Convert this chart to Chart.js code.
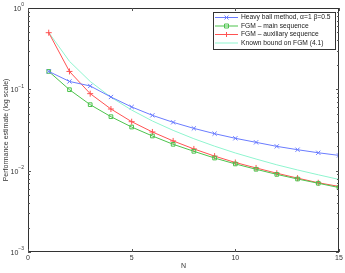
<!DOCTYPE html>
<html>
<head>
<meta charset="utf-8">
<script src="https://cdn.jsdelivr.net/npm/chart.js@4"></script>
<style>
  html, body { margin: 0; padding: 0; background: #fff; }
  #wrap { width: 345px; height: 273px; position: relative; }
</style>
</head>
<body>
<div id="wrap"><canvas id="chart-canvas"></canvas></div>
<script>
const chart = document.getElementById("chart-canvas");

// values
const iterations = [1, 2, 3, 4, 5, 6, 7, 8, 9, 10, 11, 12, 13, 14, 15];
const heavyBall = [0.166, 0.125, 0.110, 0.0805, 0.0607, 0.0479, 0.0393, 0.0331, 0.0285, 0.0250, 0.0223, 0.0199, 0.0181, 0.0166, 0.0154];
const fgmMain = [0.166, 0.099, 0.0648, 0.0461, 0.0344, 0.0267, 0.0211, 0.0173, 0.0143, 0.0121, 0.0104, 0.0090, 0.0079, 0.0070, 0.0062];
const fgmAux = [0.497, 0.166, 0.0885, 0.0573, 0.0400, 0.0299, 0.0232, 0.0185, 0.0151, 0.0126, 0.0108, 0.0093, 0.0081, 0.0071, 0.0064];
const knownBound = [0.5, 0.221, 0.125, 0.080, 0.0556, 0.0408, 0.0313, 0.0247, 0.0200, 0.0165, 0.0139, 0.0118, 0.0102, 0.0089, 0.0078];
const seriesNames = ["Heavy ball method, \u03b1=1 \u03b2=0.5", "FGM \u2013 main sequence", "FGM \u2013 auxiliary sequence", "Known bound on FGM (4.1)"];
const xTicks = [0, 5, 10, 15];
const yExponents = [0, -1, -2, -3];
// ======================

const colors = ["#6a7cff", "#4cc34c", "#ff5252", "#8ff5cf"];
const markers = ["crossRot", "rect", "cross", false];
const allSeries = [heavyBall, fgmMain, fgmAux, knownBound];

const font = "7px 'Liberation Sans', Arial, sans-serif";
const legendFont = "6.7px 'Liberation Sans', Arial, sans-serif";

function toPoints(values) {
  return values.map((v, i) => ({ x: iterations[i], y: v }));
}

const datasets = allSeries.map((values, i) => ({
  label: seriesNames[i],
  data: toPoints(values),
  borderColor: colors[i],
  backgroundColor: "rgba(0,0,0,0)",
  borderWidth: 1,
  pointStyle: markers[i],
  pointRadius: markers[i] ? (markers[i] === "rect" ? 2.6 : 3) : 0,
  pointBorderColor: colors[i],
  pointBorderWidth: 1,
  tension: 0,
  fill: false
}));

// axes, ticks and legend drawn matlab style
const matlabAxes = {
  id: "matlabAxes",
  afterDraw(c) {
    const ctx = c.ctx;
    const area = c.chartArea;
    const xs = c.scales.x;
    const ys = c.scales.y;
    ctx.save();
    ctx.strokeStyle = "#333";
    ctx.lineWidth = 1;
    ctx.strokeRect(area.left + 0.5, area.top + 0.5, area.right - area.left - 1, area.bottom - area.top - 1);

    ctx.strokeStyle = "#555";
    ctx.beginPath();
    xTicks.forEach((t) => {
      const px = Math.round(xs.getPixelForValue(t)) + 0.5;
      ctx.moveTo(px, area.bottom);
      ctx.lineTo(px, area.bottom - 3);
      ctx.moveTo(px, area.top);
      ctx.lineTo(px, area.top + 3);
    });
    for (let e = -3; e < 0; e++) {
      for (let m = 1; m < 10; m++) {
        const py = Math.round(ys.getPixelForValue(m * Math.pow(10, e))) + 0.5;
        const len = m === 1 ? 3 : 2;
        ctx.moveTo(area.left, py);
        ctx.lineTo(area.left + len, py);
        ctx.moveTo(area.right, py);
        ctx.lineTo(area.right - len, py);
      }
    }
    ctx.stroke();

    ctx.fillStyle = "#333";
    ctx.font = font;
    ctx.textAlign = "center";
    ctx.textBaseline = "top";
    xTicks.forEach((t) => {
      ctx.fillText(String(t), xs.getPixelForValue(t), area.bottom + 3);
    });
    ctx.fillText("N", (area.left + area.right) / 2, area.bottom + 11);

    yExponents.forEach((e) => {
      const py = ys.getPixelForValue(Math.pow(10, e));
      const sup = String(e).replace("-", "\u2212");
      ctx.font = "5px 'Liberation Sans', Arial, sans-serif";
      const supW = ctx.measureText(sup).width;
      const right = area.left - 4;
      ctx.textAlign = "left";
      ctx.textBaseline = "middle";
      ctx.fillText(sup, right - supW, py - 3);
      ctx.font = font;
      ctx.textAlign = "right";
      ctx.fillText("10", right - supW, py + 1);
    });

    ctx.save();
    ctx.translate(6, (area.top + area.bottom) / 2);
    ctx.rotate(-Math.PI / 2);
    ctx.textAlign = "center";
    ctx.textBaseline = "middle";
    ctx.font = font;
    ctx.fillText("Performance estimate (log scale)", 0, 0);
    ctx.restore();

    // legend box
    const box = { x: 213.5, y: 12.5, w: 122, h: 37 };
    ctx.fillStyle = "#fff";
    ctx.fillRect(box.x, box.y, box.w, box.h);
    ctx.strokeStyle = "#333";
    ctx.strokeRect(box.x, box.y, box.w, box.h);
    seriesNames.forEach((name, i) => {
      const ry = 17 + i * 8.5;
      ctx.strokeStyle = colors[i];
      ctx.lineWidth = 1;
      ctx.beginPath();
      ctx.moveTo(215, ry + 0.5);
      ctx.lineTo(238, ry + 0.5);
      ctx.stroke();
      if (markers[i]) {
        const mx = 226.5, my = ry + 0.5;
        ctx.beginPath();
        if (markers[i] === "rect") {
          ctx.rect(mx - 2, my - 2, 4, 4);
        } else if (markers[i] === "cross") {
          ctx.moveTo(mx - 2.5, my); ctx.lineTo(mx + 2.5, my);
          ctx.moveTo(mx, my - 2.5); ctx.lineTo(mx, my + 2.5);
        } else {
          ctx.moveTo(mx - 2, my - 2); ctx.lineTo(mx + 2, my + 2);
          ctx.moveTo(mx - 2, my + 2); ctx.lineTo(mx + 2, my - 2);
        }
        ctx.stroke();
      }
      ctx.fillStyle = "#222";
      ctx.font = legendFont;
      ctx.textAlign = "left";
      ctx.textBaseline = "middle";
      ctx.fillText(name, 241, ry + 0.5);
    });
    ctx.restore();
  }
};

const config = {
  type: "line",
  data: { datasets: datasets },
  options: {
    responsive: false,
    animation: false,
    devicePixelRatio: 1,
    layout: { padding: { left: 28, right: 6, top: 8, bottom: 21 } },
    plugins: { legend: false, tooltip: { enabled: false } },
    scales: {
      x: { type: "linear", min: 0, max: 15, display: false },
      y: { type: "logarithmic", min: 0.001, max: 1, display: false }
    }
  },
  plugins: [matlabAxes]
};

chart.width = 345;
chart.height = 273;
new Chart(chart, config);
</script>
</body>
</html>
